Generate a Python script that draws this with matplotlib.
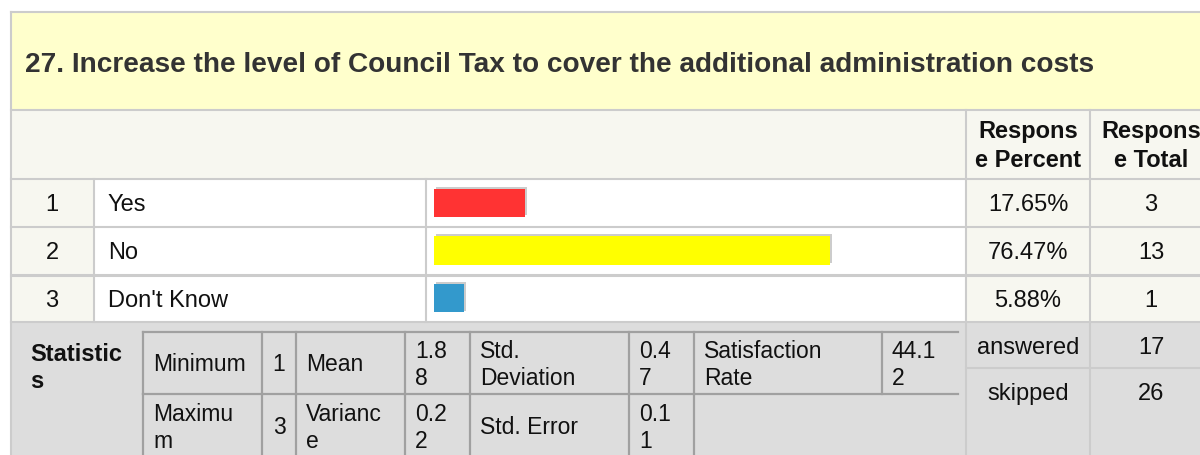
import matplotlib
matplotlib.use("Agg")
import matplotlib.pyplot as plt
from matplotlib.patches import Rectangle
import matplotlib.patheffects as pe

plt.rcParams['font.family'] = ['Liberation Sans', 'DejaVu Sans']

# ---------------- data ----------------
title = "27. Increase the level of Council Tax to cover the additional administration costs"
indices = ["1", "2", "3"]
categories = ["Yes", "No", "Don't Know"]
percents = [17.65, 76.47, 5.88]
totals = [3, 13, 1]
bar_colors = ["#ff3333", "#ffff00", "#3399cc"]
header_labels = ["Respons\ne Percent", "Respons\ne Total"]
answered = 17
skipped = 26
stat_row1_names = ["Minimum", "Mean", "Std.\nDeviation", "Satisfaction\nRate"]
stat_row1_values = [1, 1.88, 0.47, 44.12]
stat_row2_names = ["Maximu\nm", "Varianc\ne", "Std. Error"]
stat_row2_values = [3, 0.22, 0.11]


def wrap_chars(v, n):
    s = str(v)
    return "\n".join(s[i:i + n] for i in range(0, len(s), n))


W, H = 1200, 456
fig = plt.figure(figsize=(W / 100, H / 100), dpi=100)
ax = fig.add_axes([0, 0, 1, 1])
ax.set_xlim(0, W)
ax.set_ylim(H, 0)
ax.axis("off")

FS = 17
TXT = "#111111"
LINE = "#cccccc"
LW = 1.5

# backgrounds
ax.add_patch(Rectangle((11, 13), W, 98, facecolor="#ffffcc", edgecolor="none"))
ax.add_patch(Rectangle((11, 111), W, 69, facecolor="#f7f7f0", edgecolor="none"))
ax.add_patch(Rectangle((11, 180), 83, 143, facecolor="#f7f7f0", edgecolor="none"))
ax.add_patch(Rectangle((94, 180), 872, 143, facecolor="white", edgecolor="none"))
ax.add_patch(Rectangle((966, 180), W, 143, facecolor="#f7f7f0", edgecolor="none"))
ax.add_patch(Rectangle((11, 323), W, 140, facecolor="#dddddd", edgecolor="none"))

# table lines
ax.plot([11, W], [13, 13], color=LINE, lw=LW)
ax.plot([11, 11], [13, H], color=LINE, lw=LW)
for y in [111, 180, 228, 276, 323]:
    ax.plot([11, W], [y, y], color=LINE, lw=LW if y != 276 else 2.2)
for x in [94, 426]:
    ax.plot([x, x], [180, 323], color=LINE, lw=LW)
for x in [966, 1090]:
    ax.plot([x, x], [111, H], color=LINE, lw=LW)
ax.plot([966, W], [369, 369], color=LINE, lw=LW)

# title
ax.text(25, 65, title, fontsize=20.2, fontweight="bold", color="#333333",
        ha="left", va="center")

# headers
ax.text(1028, 146, header_labels[0], fontsize=FS, fontweight="bold", color=TXT,
        ha="center", va="center", linespacing=1.3)
ax.text(1151, 146, header_labels[1], fontsize=FS, fontweight="bold", color=TXT,
        ha="center", va="center", linespacing=1.3)

# rows
row_centers = [205, 253, 301]
for i, yc in enumerate(row_centers):
    ax.text(52, yc, indices[i], fontsize=FS, color=TXT, ha="center", va="center")
    ax.text(108, yc, categories[i], fontsize=FS, color=TXT, ha="left", va="center")
    ax.text(1028, yc, f"{percents[i]:.2f}%", fontsize=FS, color=TXT, ha="center", va="center")
    ax.text(1151, yc, str(totals[i]), fontsize=FS, color=TXT, ha="center", va="center")

# bars
bax = fig.add_axes([434 / W, (H - 323) / H, 518 / W, (323 - 180) / H])
bax.set_xlim(0, 100)
bax.set_ylim(2.5, -0.5)
bax.axis("off")
bars = bax.barh(range(len(percents)), percents, height=0.6, color=bar_colors)
for b in bars:
    b.set_path_effects([pe.SimplePatchShadow(offset=(1.4, 1.4), shadow_rgbFace="#cccccc", alpha=1),
                        pe.Normal()])

# statistics
ax.text(30, 368, "Statistic\ns", fontsize=FS, fontweight="bold", color=TXT,
        ha="left", va="center", linespacing=1.25)

IN = "#a0a0a0"
ILW = 1.6
xs = [143, 262, 296, 405, 470, 629, 694, 882, 958]
ax.plot([143, 958], [333, 333], color=IN, lw=ILW)
ax.plot([143, 958], [395, 395], color=IN, lw=ILW)
for x in xs[:-1]:
    ax.plot([x, x], [333, 395], color=IN, lw=ILW)
for x in xs[:7]:
    ax.plot([x, x], [395, H], color=IN, lw=ILW)

SF = 16.5
LS = 1.2
r1_name_x = [153, 306, 480, 704]
r1_val_x = [279, 415, 639, 892]
r1_val_wrap = [3, 3, 3, 4]
for k in range(4):
    ax.text(r1_name_x[k], 365, stat_row1_names[k], fontsize=SF, color=TXT,
            ha="left", va="center", linespacing=LS)
    v = wrap_chars(stat_row1_values[k], r1_val_wrap[k])
    if k == 0:
        ax.text(r1_val_x[k], 365, v, fontsize=SF, color=TXT, ha="center", va="center")
    else:
        ax.text(r1_val_x[k], 365, v, fontsize=SF, color=TXT, ha="left", va="center",
                linespacing=LS)
r2_name_x = [153, 306, 480]
r2_val_x = [279, 415, 639]
for k in range(3):
    ax.text(r2_name_x[k], 428, stat_row2_names[k], fontsize=SF, color=TXT,
            ha="left", va="center", linespacing=LS)
    v = wrap_chars(stat_row2_values[k], 3)
    if k == 0:
        ax.text(r2_val_x[k], 428, v, fontsize=SF, color=TXT, ha="center", va="center")
    else:
        ax.text(r2_val_x[k], 428, v, fontsize=SF, color=TXT, ha="left", va="center",
                linespacing=LS)

ax.text(1028, 348, "answered", fontsize=FS, color=TXT, ha="center", va="center")
ax.text(1151, 348, str(answered), fontsize=FS, color=TXT, ha="center", va="center")
ax.text(1028, 394, "skipped", fontsize=FS, color=TXT, ha="center", va="center")
ax.text(1151, 394, str(skipped), fontsize=FS, color=TXT, ha="center", va="center")

fig.savefig("out.png", dpi=100)
